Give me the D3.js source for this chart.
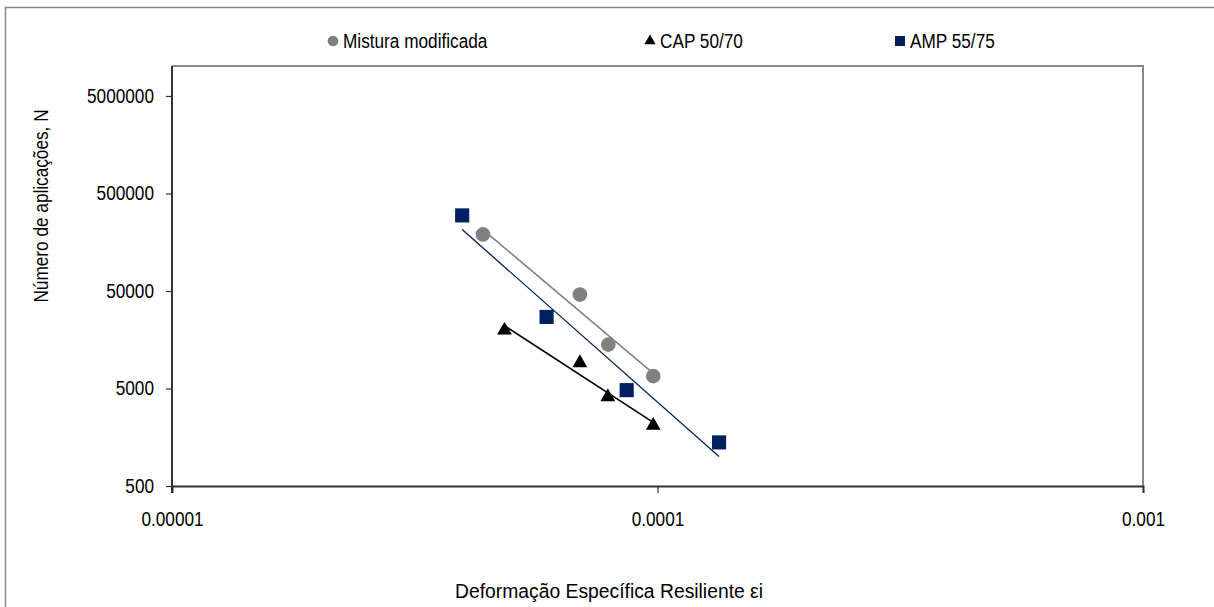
<!DOCTYPE html>
<html>
<head>
<meta charset="utf-8">
<script src="https://cdn.jsdelivr.net/npm/d3@7"></script>
<style>
  html, body { margin: 0; padding: 0; background: #fff; }
  svg text { font-family: "Liberation Sans", Arial, sans-serif; fill: #000; }
</style>
</head>
<body>
<svg id="chart" width="1214" height="607"></svg>
<script>
// ---- data ----
const seriesNames = ["Mistura modificada", "CAP 50/70", "AMP 55/75"];
const mistStrain = [4.37e-5, 6.92e-5, 7.92e-5, 9.8e-5];
const mistN      = [190000, 46000, 14100, 6700];
const capStrain  = [4.84e-5, 6.92e-5, 7.9e-5, 9.8e-5];
const capN       = [19800, 9150, 4100, 2090];
const ampStrain  = [3.96e-5, 5.91e-5, 8.64e-5, 1.339e-4];
const ampN       = [298000, 27100, 4810, 1400];
const xTicks = [0.00001, 0.0001, 0.001];
const xTickLabels = ["0.00001", "0.0001", "0.001"];
const yTicks = [500, 5000, 50000, 500000, 5000000];
const yTickLabels = ["500", "5000", "50000", "500000", "5000000"];
const xTitle = "Deformação Específica Resiliente εi";
const yTitle = "Número de aplicações, N";

const svg = d3.select("#chart");
const L = 172, R = 1143, T = 66, B = 486;
const FS = "20px", SQUEEZE = 0.86;

const x = d3.scaleLog().domain([1e-5, 1e-3]).range([L, R]);
const y = d3.scaleLog().domain([500, 500 * Math.pow(10, (B - T) / 97.5)]).range([B, T]);

// outer chart border (left & top visible)
svg.append("rect").attr("x", 5.5).attr("y", 7.5).attr("width", 1240).attr("height", 640)
  .attr("fill", "none").attr("stroke", "#8a8a8a").attr("stroke-width", 1.5);

// plot frame: top & right gray
svg.append("path").attr("d", `M${L},${T}H${R}V${B}`)
  .attr("fill", "none").attr("stroke", "#888").attr("stroke-width", 2);

// axes
const yAxis = d3.axisLeft(y).tickValues(yTicks).tickFormat((d, i) => yTickLabels[i]).tickSizeOuter(0).tickSize(6).tickPadding(12);
const gy = svg.append("g").attr("transform", `translate(${L},0)`).call(yAxis);
const xAxis = d3.axisBottom(x).tickValues(xTicks).tickFormat((d, i) => xTickLabels[i]).tickSizeOuter(0).tickSize(7).tickPadding(19);
const gx = svg.append("g").attr("transform", `translate(0,${B})`).call(xAxis);
[gx, gy].forEach(g => {
  g.select(".domain").attr("stroke", "#333").attr("stroke-width", 2);
  g.selectAll(".tick line").attr("stroke", "#333").attr("stroke-width", 1.2);
  g.selectAll(".tick text").style("font-size", FS).attr("fill", "#000")
    .attr("font-family", null);
});
gx.attr("font-family", null); gy.attr("font-family", null);
gy.select(".domain").attr("d", `M0,${B + 7}V${T}`);

// axis titles
const xt = svg.append("text").attr("x", 609).attr("y", 598).attr("text-anchor", "middle")
  .style("font-size", FS).text(xTitle);
svg.append("text").attr("transform", `translate(48,206) rotate(-90)`).attr("text-anchor", "middle")
  .style("font-size", FS).text(yTitle);

// power trendlines via log-log regression
function powerFit(xs, ys) {
  const lx = xs.map(Math.log10), ly = ys.map(Math.log10);
  const mx = d3.mean(lx), my = d3.mean(ly);
  const b = d3.sum(lx.map((v, i) => (v - mx) * (ly[i] - my))) / d3.sum(lx.map(v => (v - mx) ** 2));
  const a = my - b * mx;
  const x0 = d3.min(xs), x1 = d3.max(xs);
  return [[x0, Math.pow(10, a + b * Math.log10(x0))], [x1, Math.pow(10, a + b * Math.log10(x1))]];
}
const line = d3.line().x(d => x(d[0])).y(d => y(d[1]));
const series = [
  { xs: mistStrain, ys: mistN, color: "#808080", shape: d3.symbolCircle, size: 170, lw: 1.6 },
  { xs: capStrain, ys: capN, color: "#000000", shape: d3.symbolTriangle, size: 95, lw: 1.6 },
  { xs: ampStrain, ys: ampN, color: "#002060", shape: d3.symbolSquare, size: 200, lw: 1.3 }
];
series.forEach(s => {
  svg.append("path").attr("d", line(powerFit(s.xs, s.ys)))
    .attr("fill", "none").attr("stroke", s.color).attr("stroke-width", s.lw);
});
series.forEach(s => {
  svg.append("g").selectAll("path").data(s.xs.map((v, i) => [v, s.ys[i]])).join("path")
    .attr("transform", d => `translate(${x(d[0])},${y(d[1])})`)
    .attr("d", d3.symbol().type(s.shape).size(s.size)())
    .attr("fill", s.color);
});

// legend
const legendX = [333, 650, 900];
const legendSizes = [90, 55, 100];
series.forEach((s, i) => {
  svg.append("path").attr("transform", `translate(${legendX[i]},41)`)
    .attr("d", d3.symbol().type(s.shape).size(legendSizes[i])()).attr("fill", s.color);
  svg.append("text").attr("x", legendX[i] + 10).attr("y", 41).attr("dy", "0.35em")
    .style("font-size", FS).text(seriesNames[i]);
});

// condense all text horizontally (reference uses a narrow face)
svg.selectAll("text").each(function () {
  const w = this.getComputedTextLength();
  d3.select(this).attr("textLength", w * SQUEEZE).attr("lengthAdjust", "spacingAndGlyphs");
});
xt.attr("textLength", 308);
</script>
</body>
</html>
